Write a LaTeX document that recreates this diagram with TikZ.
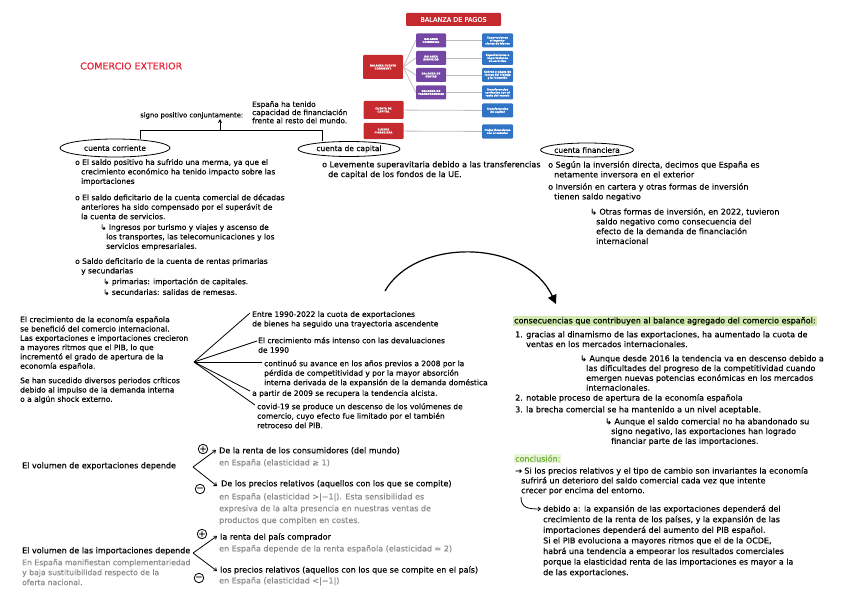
\documentclass[tikz,border=0pt]{standalone}
\usepackage{fontspec}
\setmainfont{DejaVu Sans}[FakeBold=0.35]
\usetikzlibrary{arrows.meta, positioning, shapes.geometric}

\definecolor{bpred}{HTML}{C62A2F}
\definecolor{bppurple}{HTML}{7347A3}
\definecolor{bpblue}{HTML}{3174C6}
\definecolor{bpline}{HTML}{BDBDBD}
\definecolor{titlered}{HTML}{E12338}
\definecolor{notegrey}{HTML}{8A8A8A}
\definecolor{hlgreen}{HTML}{D3EBB0}
\definecolor{txtgreen}{HTML}{6FAA3A}

\newcommand{\ind}{\hspace*{6pt}}

\begin{document}
\begin{tikzpicture}[
  x=1pt, y=-1pt,
  txt/.style    = {anchor=north west, inner sep=0pt, align=left,
                   font=\fontsize{7.5}{9.5}\selectfont},
  wide/.style   = {txt, font=\fontsize{8}{9.8}\selectfont},
  grey/.style   = {txt, text=notegrey, font=\fontsize{8}{11.8}\selectfont},
  acct/.style   = {draw, thick, ellipse, inner sep=0pt,
                   font=\fontsize{7.5}{8}\selectfont},
  bpbox/.style  = {rounded corners=1pt, text=white, align=center, inner sep=0.5pt,
                   font=\fontsize{2.6}{3}\selectfont\bfseries},
  redbox/.style = {bpbox, fill=bpred, minimum width=40pt},
  purplebox/.style = {bpbox, fill=bppurple, minimum width=30pt, minimum height=14pt},
  bluebox/.style   = {bpbox, fill=bpblue, minimum width=31pt, minimum height=14pt,
                      text width=29pt},
  bpcon/.style  = {bpline, line width=0.8pt},
  sign/.style   = {draw, thick, circle, inner sep=0pt, minimum size=9.5pt,
                   font=\fontsize{8}{8}\selectfont\bfseries},
  arr/.style    = {-{Stealth[length=4pt,width=4pt]}, thick},
  chev/.style   = {-{Straight Barb[length=2.5pt,width=4pt]}, thick}
]
\useasboundingbox (0,0) rectangle (848,599);

% Balanza de pagos
\node[bpbox, fill=bpred, minimum width=95pt, minimum height=13pt,
      font=\fontsize{6.5}{7}\selectfont] (bp) at (453.5,19.5) {BALANZA DE PAGOS};
\node[redbox, minimum height=24pt] (bcc)  at (383,67)    {BALANZA CUENTA\\CORRIENTE};
\node[redbox, minimum height=18pt] (bcap) at (383.5,110) {CUENTA DE\\CAPITAL};
\node[redbox, minimum height=16pt] (bfin) at (383.5,131) {CUENTA\\FINANCIERA};

\node[purplebox] (bcom) at (431,40.5) {BALANZA\\COMERCIAL};
\node[purplebox] (bser) at (431,58)   {BALANZA\\SERVICIOS};
\node[purplebox] (bren) at (431,75)   {BALANZA DE\\RENTAS};
\node[purplebox] (btra) at (431,92.5) {BALANZA DE\\TRANSFERENCIAS};

\node[bluebox] (dcom) at (497.5,40.5)  {Exportaciones e importaciones de bienes};
\node[bluebox] (dser) at (497.5,58)    {Exportaciones e importaciones de servicios};
\node[bluebox] (dren) at (497.5,75)    {Cobros y pagos de rentas del trabajo y la inversión};
\node[bluebox] (dtra) at (497.5,92.5)  {Transferencias corrientes con el resto del mundo};
\node[bluebox] (dcap) at (497.5,110.5) {Transferencias de capital};
\node[bluebox] (dfin) at (497.5,131.5) {Flujos financieros con el exterior};

\foreach \b in {bcom,bser,bren,btra}
  \draw[bpcon] (bcc.east) -- (\b.west);
\foreach \a/\b in {bcom/dcom, bser/dser, bren/dren, btra/dtra, bcap/dcap, bfin/dfin}
  \draw[bpcon] (\a) -- (\b);

% Title
\node[anchor=west, inner sep=0pt, text=titlered,
      font=\fontsize{9.5}{10}\selectfont] (title) at (80,66) {COMERCIO EXTERIOR};

% Cuentas
\node[acct, minimum width=110pt, minimum height=18pt] (cc) at (115,148) {cuenta corriente};
\node[acct, minimum width=102pt, minimum height=15pt] (ck) at (349,149) {cuenta de capital};
\node[acct, minimum width=93pt,  minimum height=14pt] (cf) at (587,150) {cuenta financiera};

\coordinate (jl) at (140,130);
\coordinate (jr) at (322,130);
\coordinate (jm) at (220,130);
\draw[thick] (jl |- cc.north) -- (jl) -- (jr) -- (jr |- ck.north);
\node[txt, anchor=south west, font=\fontsize{6.8}{8}\selectfont] (sig) at (140,119) {signo positivo conjuntamente:};
\node[txt, font=\fontsize{7.3}{8.2}\selectfont] (esp) at (252,101)
  {España ha tenido\\capacidad de financiación\\frente al resto del mundo.};
\draw[arr] (jm) -- (jm |- sig.south);

% Cuenta corriente
\node[txt] (cc1) at (75,159) {o El saldo positivo ha sufrido una merma, ya que el\\\ind crecimiento económico ha tenido impacto sobre las\\\ind importaciones};
\node[txt] (cc2) at (75,194) {o El saldo deficitario de la cuenta comercial de décadas\\\ind anteriores ha sido compensado por el superávit de\\\ind la cuenta de servicios.};
\node[txt] (cc3) at (100,224) {↳ Ingresos por turismo y viajes y ascenso de\\\ind los transportes, las telecomunicaciones y los\\\ind servicios empresariales.};
\node[txt] (cc4) at (75,258) {o Saldo deficitario de la cuenta de rentas primarias\\\ind y secundarias};
\node[txt] (cc5) at (103,278) {↳ primarias: importación de capitales.};
\node[txt] (cc6) at (103,289) {↳ secundarias: salidas de remesas.};

% Cuenta de capital
\node[wide] (ck1) at (322,161) {o Levemente superavitaria debido a las transferencias\\\ind de capital de los fondos de la UE.};

% Cuenta financiera
\node[wide] (cf1) at (548,161) {o Según la inversión directa, decimos que España es\\\ind netamente inversora en el exterior};
\node[wide] (cf2) at (548,183) {o Inversión en cartera y otras formas de inversión\\\ind tienen saldo negativo};
\node[wide] (cf3) at (590,208) {↳ Otras formas de inversión, en 2022, tuvieron\\\ind saldo negativo como consecuencia del\\\ind efecto de la demanda de financiación\\\ind internacional};

% Big arrow
\coordinate (arcs) at (385,291);
\coordinate (arce) at (556,304);
\draw[very thick, -{Triangle[length=9pt,width=9pt]}]
  (arcs) .. controls (415,238) and (525,238) .. (arce);

% Crecimiento
\node[txt, font=\fontsize{7.5}{9.3}\selectfont] (p1) at (20,316)
  {El crecimiento de la economía española\\se benefició del comercio internacional.\\Las exportaciones e importaciones crecieron\\a mayores ritmos que el PIB, lo que\\incrementó el grado de apertura de la\\economía española.};
\node[txt, font=\fontsize{7.5}{9.3}\selectfont] (p2) at (20,377)
  {Se han sucedido diversos periodos críticos\\debido al impulso de la demanda interna\\o a algún shock externo.};

\coordinate (fan) at (194,362);
\coordinate (f1) at (250,313);
\coordinate (f2) at (257,341);
\coordinate (f3) at (262,362);
\coordinate (f4) at (250,391);
\coordinate (f5) at (255,405);
\foreach \f in {f1,f2,f3,f4,f5}
  \draw[thick] (fan) -- (\f);

\node[txt] (t1) at (252,311) {Entre 1990-2022 la cuota de exportaciones\\de bienes ha seguido una trayectoria ascendente};
\node[txt] (t2) at (258,337) {El crecimiento más intenso con las devaluaciones\\de 1990};
\node[txt] (t3) at (264,360) {continuó su avance en los años previos a 2008 por la\\pérdida de competitividad y por la mayor absorción\\interna derivada de la expansión de la demanda doméstica};
\node[txt] (t4) at (252,390) {a partir de 2009 se recupera la tendencia alcista.};
\node[txt] (t5) at (257,403) {covid-19 se produce un descenso de los volúmenes de\\comercio, cuyo efecto fue limitado por el también\\retroceso del PIB.};

% Consecuencias
\node[wide, fill=hlgreen, inner sep=1pt] (cons) at (513,316)
  {consecuencias que contribuyen al balance agregado del comercio español:};
\node[wide] (r1) at (515,331) {1. gracias al dinamismo de las exportaciones, ha aumentado la cuota de\\\hspace*{11pt}ventas en los mercados internacionales.};
\node[wide] (r1a) at (580,355) {↳ Aunque desde 2016 la tendencia va en descenso debido a\\\ind las dificultades del progreso de la competitividad cuando\\\ind emergen nuevas potencias económicas en los mercados\\\ind internacionales.};
\node[wide] (r2) at (515,394) {2. notable proceso de apertura de la economía española};
\node[wide] (r3) at (515,406) {3. la brecha comercial se ha mantenido a un nivel aceptable.};
\node[wide] (r3a) at (605,418) {↳ Aunque el saldo comercial no ha abandonado su\\\ind signo negativo, las exportaciones han logrado\\\ind financiar parte de las importaciones.};

% Conclusion
\node[wide, text=txtgreen, fill=hlgreen!50, inner sep=1pt] (concl) at (514,454) {conclusión:};
\node[wide] (c1) at (515,467) {→ Si los precios relativos y el tipo de cambio son invariantes la economía\\\ind sufrirá un deterioro del saldo comercial cada vez que intente\\\ind crecer por encima del entorno.};
\coordinate (hk) at (521,497);
\coordinate (hk2) at (541,509);
\draw[chev] (hk) .. controls (521,508) and (528,509) .. (hk2);
\node[wide, font=\fontsize{8}{10.6}\selectfont] (c2) at (543,505)
  {debido a: la expansión de las exportaciones dependerá del\\crecimiento de la renta de los países, y la expansión de las\\importaciones dependerá del aumento del PIB español.\\Si el PIB evoluciona a mayores ritmos que el de la OCDE,\\habrá una tendencia a empeorar los resultados comerciales\\porque la elasticidad renta de las importaciones es mayor a la\\de las exportaciones.};

% Exportaciones
\node[wide] (expo) at (22,462) {El volumen de exportaciones depende};
\coordinate (ex)  at (193,467);
\coordinate (ex1) at (216,450);
\coordinate (ex2) at (217,486);
\draw[chev] (ex) -- (ex1);
\draw[chev] (ex) -- (ex2);
\node[sign] (ep) at (203,449) {+};
\node[sign] (em) at (200,489) {−};
\node[wide] (x1) at (219,447) {De la renta de los consumidores (del mundo)};
\node[grey] (x1g) at (219,459) {en España (elasticidad ≥ 1)};
\node[wide] (x2) at (221,480) {De los precios relativos (aquellos con los que se compite)};
\node[grey] (x2g) at (219,493) {en España (elasticidad >|−1|). Esta sensibilidad es\\expresiva de la alta presencia en nuestras ventas de\\productos que compiten en costes.};

% Importaciones
\node[wide] (impo) at (22,547) {El volumen de las importaciones depende};
\node[grey, font=\fontsize{7.7}{10}\selectfont] (impog) at (22,559) {En España manifiestan complementariedad\\y baja sustituibilidad respecto de la\\oferta nacional.};
\coordinate (im)  at (193,553);
\coordinate (im1) at (217,536);
\coordinate (im2) at (217,571);
\draw[chev] (im) -- (im1);
\draw[chev] (im) -- (im2);
\node[sign] (ip) at (202,534) {+};
\node[sign] (imn) at (199,578) {−};
\node[wide] (y1) at (220,533) {la renta del país comprador};
\node[grey] (y1g) at (219,545) {en España depende de la renta española (elasticidad ≃ 2)};
\node[wide] (y2) at (220,566) {los precios relativos (aquellos con los que se compite en el país)};
\node[grey] (y2g) at (219,577) {en España (elasticidad <|−1|)};
\end{tikzpicture}
\end{document}
